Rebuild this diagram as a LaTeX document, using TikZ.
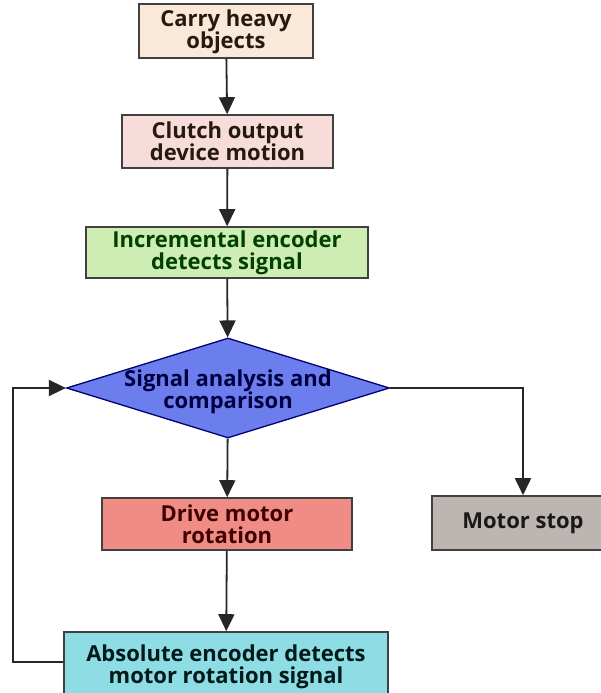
\documentclass[tikz,border=0pt]{standalone}
\usepackage{fontspec}
\setmainfont{Open Sans}
\usetikzlibrary{calc, shapes, arrows.meta}
\definecolor{peach}{HTML}{FAE8D8}
\definecolor{blush}{HTML}{F7DCDA}
\definecolor{mint}{HTML}{CDEDB2}
\definecolor{indigo}{HTML}{6C7EEE}
\definecolor{salmon}{HTML}{EF8C86}
\definecolor{stone}{HTML}{BDB5B2}
\definecolor{aqua}{HTML}{8EDCE4}
\tikzset{
    flow box/.style = {rectangle, draw=black!75, line width=1.6pt, inner sep=2pt, align=center, font=\fontsize{22}{22}\selectfont\bfseries},
    check box/.style = {diamond, draw=blue!45!black, line width=1.3pt, fill=indigo, inner sep=0pt},
    check text/.style = {align=center, font=\fontsize{22}{22}\selectfont\bfseries, text=blue!25!black},
    flow arrow/.style = {draw=black!85, line width=1.8pt, -{Triangle[length=17pt, width=16pt]}}
}
\begin{document}
    \begin{tikzpicture}[x=1pt, y=-1pt]
        \useasboundingbox[fill=white] (0,0) rectangle (601,693);
        \node[flow box, fill=peach, text=black!80!brown, minimum width=174pt, minimum height=54pt, text depth=4pt] (carry) at (226,31) {Carry heavy\\objects};
        \node[flow box, fill=blush, text=black!80!brown, minimum width=211pt, minimum height=53pt] (clutch) at (227.5,141.5) {Clutch output\\device motion};
        \node[flow box, fill=mint, text=black!75!green, minimum width=282pt, minimum height=51pt] (incr) at (227,252.5) {Incremental encoder\\detects signal};
        \node[check box, minimum width=323pt, minimum height=100pt] (signal) at (228,388) {};
        \node[check text] (signaltext) at ([yshift=-4pt]signal.center) {Signal analysis and\\comparison};
        \node[flow box, fill=salmon, text=black!75!red, minimum width=250pt, minimum height=52pt] (drive) at (227,524) {Drive motor\\rotation};
        \node[flow box, fill=stone, text=black!90, minimum width=182pt, minimum height=54pt] (stop) at (523,523) {Motor stop};
        \node[flow box, fill=aqua, text=black!80!teal, minimum width=324pt, minimum height=70pt] (absolute) at (226,667) {Absolute encoder detects\\motor rotation signal};
        \coordinate (loop) at (13,662);

        \draw[flow arrow] (carry) -- (clutch);
        \draw[flow arrow] (clutch) -- (incr);
        \draw[flow arrow] (incr) -- (signal);
        \draw[flow arrow] (signal) -- (drive);
        \draw[flow arrow] (signal.east) -| (stop.north);
        \draw[flow arrow] (drive) -- (absolute);
        \draw[flow arrow] (absolute.west |- loop) -- (loop) |- (signal.west);
    \end{tikzpicture}
\end{document}
